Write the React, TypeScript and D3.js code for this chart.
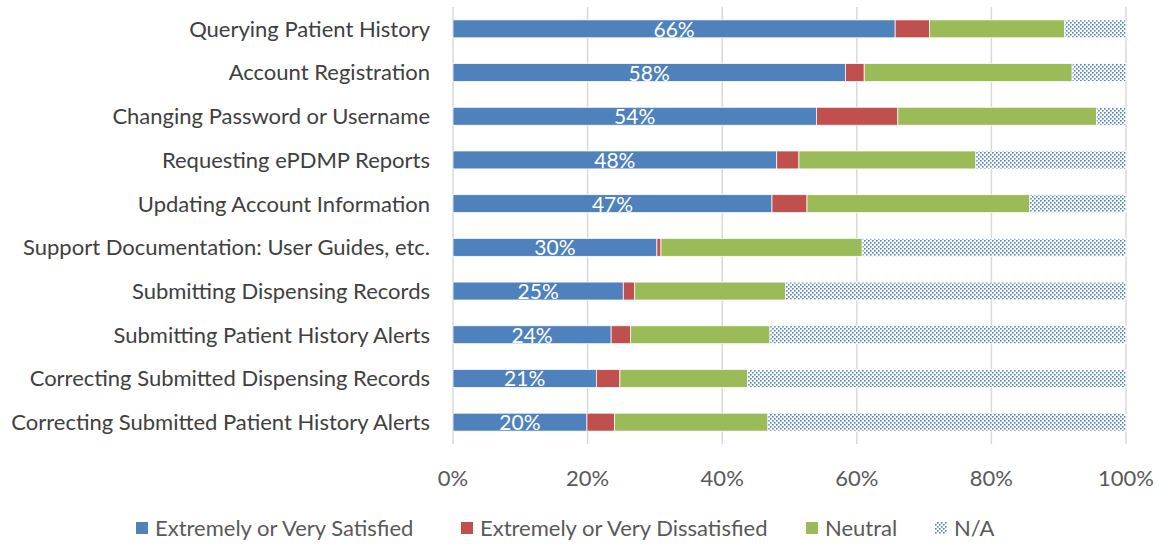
import React from 'react';
import * as d3 from 'd3';

// categories, top to bottom
const CATEGORIES = [
  'Querying Patient History',
  'Account Registration',
  'Changing Password or Username',
  'Requesting ePDMP Reports',
  'Updating Account Information',
  'Support Documentation: User Guides, etc.',
  'Submitting Dispensing Records',
  'Submitting Patient History Alerts',
  'Correcting Submitted Dispensing Records',
  'Correcting Submitted Patient History Alerts',
];

// percentages
const SATISFIED = [65.7, 58.3, 54.0, 48.1, 47.4, 30.3, 25.3, 23.5, 21.3, 19.9];
const DISSATISFIED = [5.1, 2.8, 12.1, 3.3, 5.2, 0.6, 1.7, 2.9, 3.5, 4.1];
const NEUTRAL = [20.1, 30.9, 29.5, 26.3, 33.1, 29.9, 22.4, 20.7, 19.0, 22.8];
const NA = [9.1, 8.0, 4.4, 22.3, 14.3, 39.2, 50.6, 52.9, 56.2, 53.2];

const SERIES = [
  { key: 'sat', label: 'Extremely or Very Satisfied', color: '#4F81BD', values: SATISFIED },
  { key: 'dis', label: 'Extremely or Very Dissatisfied', color: '#C0504D', values: DISSATISFIED },
  { key: 'neu', label: 'Neutral', color: '#9BBB59', values: NEUTRAL },
  { key: 'na', label: 'N/A', color: 'url(#dots)', values: NA },
];

const X_TICKS = [0, 20, 40, 60, 80, 100];

const W = 1162;
const H = 544;
const FONT = 'Lato, "Open Sans", sans-serif';

export default function App() {
  const x = d3.scaleLinear().domain([0, 100]).range([453, 1126]);
  const y = d3.scaleBand<string>().domain(CATEGORIES).range([7, 444]).paddingInner(0.59).paddingOuter(0.295);

  const rows = CATEGORIES.map((c, i) => {
    const r: any = { cat: c };
    SERIES.forEach(s => (r[s.key] = s.values[i]));
    return r;
  });
  const stacked = d3.stack<any>().keys(SERIES.map(s => s.key))(rows);

  const legendX = [136, 461, 806, 935];

  return (
    <div style={{ position: 'absolute', left: 0, top: 0 }}>
      <svg width={W} height={H} style={{ display: 'block', background: '#fff' }}>
        <defs>
          <pattern id="dots" width={4} height={4} patternUnits="userSpaceOnUse">
            <rect width={4} height={4} fill="#fff" />
            <rect x={0} y={0} width={1.6} height={1.6} fill="#4F81BD" />
            <rect x={2} y={2} width={1.6} height={1.6} fill="#4F81BD" />
          </pattern>
        </defs>

        {/* gridlines */}
        {X_TICKS.map(t => (
          <line key={t} x1={x(t)} x2={x(t)} y1={7} y2={444} stroke="#D9D9D9" strokeWidth={1.5} />
        ))}

        {/* bars */}
        {stacked.map((layer, li) => (
          <g key={layer.key}>
            {layer.map((d, i) => (
              <rect
                key={i}
                x={x(d[0])}
                y={y(CATEGORIES[i])}
                width={x(d[1]) - x(d[0])}
                height={y.bandwidth()}
                fill={SERIES[li].color}
                stroke="#fff"
                strokeWidth={0.75}
              />
            ))}
          </g>
        ))}

        {/* data labels on satisfied segment */}
        {SATISFIED.map((v, i) => (
          <text
            key={i}
            x={(x(0) + x(v)) / 2}
            y={(y(CATEGORIES[i]) as number) + y.bandwidth() / 2}
            dy="0.38em"
            textAnchor="middle"
            fill="#fff"
            fontFamily={FONT}
            fontSize={21}
          >
            {Math.round(v)}%
          </text>
        ))}

        {/* category labels */}
        {CATEGORIES.map(c => (
          <text
            key={c}
            x={430}
            y={(y(c) as number) + y.bandwidth() / 2}
            dy="0.36em"
            textAnchor="end"
            fill="#404040"
            fontFamily={FONT}
            fontSize={22}
          >
            {c}
          </text>
        ))}

        {/* x tick labels */}
        {X_TICKS.map(t => (
          <text key={t} x={x(t)} y={478} dy="0.36em" textAnchor="middle" fill="#595959" fontFamily={FONT} fontSize={22}>
            {t}%
          </text>
        ))}

        {/* legend */}
        {SERIES.map((s, i) => (
          <g key={s.key} transform={`translate(${legendX[i]},528)`}>
            <rect x={0} y={-6} width={12} height={12} fill={s.color} />
            <text x={19} y={0} dy="0.36em" fill="#595959" fontFamily={FONT} fontSize={22}>
              {s.label}
            </text>
          </g>
        ))}
      </svg>
    </div>
  );
}
